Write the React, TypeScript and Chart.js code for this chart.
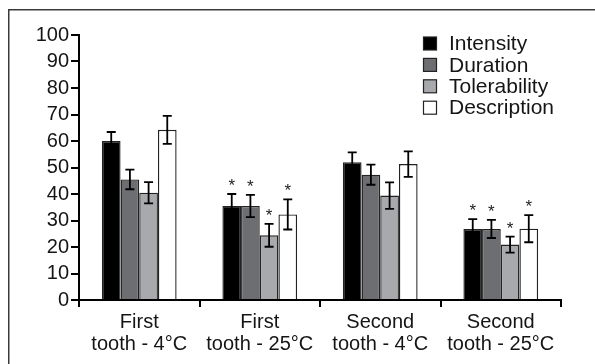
import React, { useEffect, useRef } from 'react';
import { Chart, registerables } from 'chart.js';

Chart.register(...registerables);

const categories: string[][] = [
  ['First', 'tooth - 4°C'],
  ['First', 'tooth - 25°C'],
  ['Second', 'tooth - 4°C'],
  ['Second', 'tooth - 25°C'],
];
const seriesLabels = ['Intensity', 'Duration', 'Tolerability', 'Description'];
const seriesColors = ['#000000', '#6d6e71', '#a7a9ac', '#ffffff'];

const intensity = [60, 35.5, 52, 26.8];
const intensityErr = [3.4, 4.5, 3.7, 3.7];
const duration = [45.5, 35.5, 47.3, 26.8];
const durationErr = [3.7, 4.2, 3.8, 3.4];
const tolerability = [40.5, 24.4, 39.4, 20.9];
const tolerabilityErr = [4.0, 4.3, 5.0, 3.0];
const description = [64.2, 32.3, 51.3, 26.9];
const descriptionErr = [5.3, 5.7, 4.8, 5.1];

const significant = [false, true, false, true];
const yTickValues = [0, 10, 20, 30, 40, 50, 60, 70, 80, 90, 100];

const FONT = "'Liberation Sans', Arial, Helvetica, sans-serif";
const TEXT = '#151515';

const framePlugin = {
  id: 'frame',
  beforeDraw(chart: any) {
    const ctx = chart.ctx;
    ctx.save();
    ctx.strokeStyle = '#3a3a3a';
    ctx.lineWidth = 1.5;
    ctx.beginPath();
    ctx.moveTo(8.75, chart.height);
    ctx.lineTo(8.75, 9.75);
    ctx.lineTo(chart.width, 9.75);
    ctx.stroke();
    ctx.restore();
  },
};

const errorBarPlugin = {
  id: 'errorBars',
  afterDatasetsDraw(chart: any) {
    const ctx = chart.ctx;
    const y = chart.scales.y;
    ctx.save();
    chart.data.datasets.forEach((ds: any, i: number) => {
      const meta = chart.getDatasetMeta(i);
      meta.data.forEach((bar: any, j: number) => {
        const v = ds.data[j];
        const e = ds.errors[j];
        const yt = y.getPixelForValue(v + e);
        const yb = y.getPixelForValue(v - e);
        const x = bar.x;
        ctx.strokeStyle = '#000';
        ctx.lineWidth = 1.8;
        ctx.beginPath();
        ctx.moveTo(x, yt);
        ctx.lineTo(x, yb);
        ctx.moveTo(x - 4.5, yt);
        ctx.lineTo(x + 4.5, yt);
        ctx.moveTo(x - 4.5, yb);
        ctx.lineTo(x + 4.5, yb);
        ctx.stroke();
        if (significant[j]) {
          ctx.fillStyle = '#222';
          ctx.font = `17px ${FONT}`;
          ctx.textAlign = 'center';
          ctx.textBaseline = 'alphabetic';
          ctx.fillText('*', x, yt - 13 + 10);
        }
      });
    });
    ctx.restore();
  },
};

const legendPlugin = {
  id: 'customLegend',
  afterDraw(chart: any) {
    const ctx = chart.ctx;
    ctx.save();
    const boxX = 423.5;
    const textX = 449;
    chart.data.datasets.forEach((ds: any, i: number) => {
      const cy = 43.5 + i * 21.4;
      ctx.fillStyle = ds.backgroundColor;
      ctx.fillRect(boxX, cy - 6.5, 13, 13);
      ctx.strokeStyle = '#222';
      ctx.lineWidth = 1.2;
      ctx.strokeRect(boxX, cy - 6.5, 13, 13);
      ctx.fillStyle = TEXT;
      ctx.font = `21px ${FONT}`;
      ctx.textAlign = 'left';
      ctx.textBaseline = 'middle';
      ctx.fillText(ds.label, textX, cy + 1);
    });
    ctx.restore();
  },
};

export default function App() {
  const ref = useRef<HTMLCanvasElement | null>(null);

  useEffect(() => {
    if (!ref.current) return;
    const values = [intensity, duration, tolerability, description];
    const errs = [intensityErr, durationErr, tolerabilityErr, descriptionErr];
    const chart = new Chart(ref.current, {
      type: 'bar',
      data: {
        labels: categories,
        datasets: seriesLabels.map((label, i) => ({
          label,
          data: values[i],
          errors: errs[i],
          backgroundColor: seriesColors[i],
          borderColor: '#222',
          borderWidth: 1.4,
          barPercentage: 1,
          categoryPercentage: 0.62,
        })) as any,
      },
      options: {
        animation: false,
        responsive: false,
        maintainAspectRatio: false,
        devicePixelRatio: 1,
        layout: { padding: { left: 0, top: 35, right: 34, bottom: 0 } },
        plugins: {
          legend: { display: false },
          tooltip: { enabled: false },
        },
        scales: {
          x: {
            offset: true,
            grid: {
              offset: true,
              drawOnChartArea: false,
              drawTicks: true,
              tickLength: 7,
              color: '#000',
              lineWidth: 2,
            },
            border: { display: true, color: '#000', width: 2 },
            ticks: {
              color: TEXT,
              font: { family: FONT, size: 20, lineHeight: 1.12 },
              padding: 4,
              maxRotation: 0,
              minRotation: 0,
              autoSkip: false,
            },
            afterFit(s: any) {
              s.height = 64;
            },
          },
          y: {
            min: 0,
            max: 100,
            afterBuildTicks(s: any) {
              s.ticks = yTickValues.map((v) => ({ value: v }));
            },
            grid: {
              drawOnChartArea: false,
              drawTicks: true,
              tickLength: 8,
              color: '#000',
              lineWidth: 2,
            },
            border: { display: true, color: '#000', width: 2 },
            ticks: {
              color: TEXT,
              font: { family: FONT, size: 20 },
              padding: 2,
              autoSkip: false,
            },
            afterFit(s: any) {
              s.width = 79;
            },
          },
        },
      },
      plugins: [framePlugin, errorBarPlugin, legendPlugin],
    });
    return () => chart.destroy();
  }, []);

  return (
    <div style={{ position: 'fixed', left: 0, top: 0, width: 595, height: 364, background: '#fff' }}>
      <canvas ref={ref} width={595} height={364} style={{ width: 595, height: 364, display: 'block' }} />
    </div>
  );
}
